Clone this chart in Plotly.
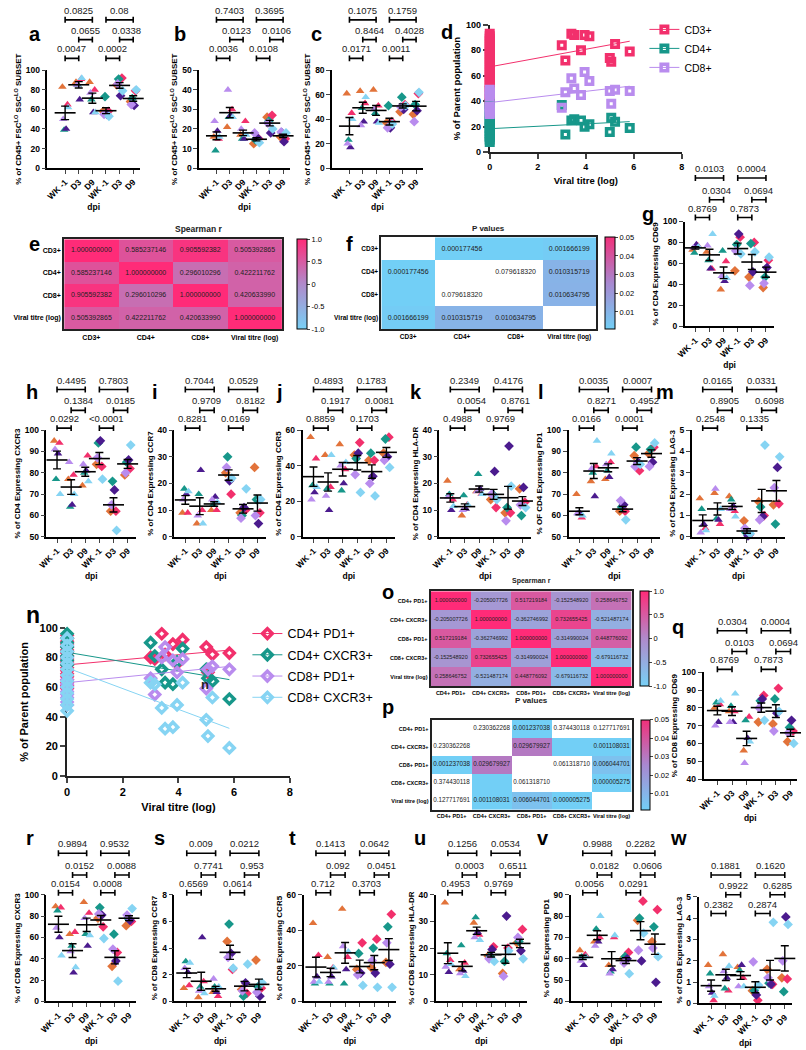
import numpy as np
import plotly.graph_objects as go

# ======================= DATA =======================
ANIMAL_COLORS = ["#E2733A", "#F2306C", "#17978A", "#4B1B8E", "#B98CEE", "#86D4F3"]
DPI_LABELS = ["WK -1", "D3", "D9", "WK -1", "D3", "D9"]

# each panel: 6 groups (WK-1, D3, D9 triangles | WK-1, D3, D9 diamonds) x 6 animals
A_VALUES = [[83, 65, 39, 40, 50, 62], [88, 91, 85, 70, 85, 92], [88, 80, 70, 57, 77, 57],
            [58, 58, 73, 55, 55, 53], [85, 92, 91, 74, 86, 79], [68, 79, 71, 64, 65, 80]]
B_VALUES = [[16, 15, 9, 19, 24, 16], [21, 30, 26, 27, 40, 26], [17, 24, 15, 15, 20, 17],
            [12.5, 15, 14.5, 15.5, 18, 13], [26, 27, 24, 18, 23, 20], [16, 15, 18, 13.5, 18.5, 18]]
C_VALUES = [[61, 45, 23, 17, 20, 40], [63, 53, 49, 38, 35, 58], [64, 51, 45, 38, 48, 37],
            [37, 38, 51, 33, 33, 36], [46, 52, 58, 48, 50, 51], [44, 61, 52, 47, 38, 62]]
G_VALUES = [[73, 77, 70, 78, 75, 76], [71, 55, 63, 55, 77, 88], [35, 62, 72, 43, 48, 46],
            [53, 85, 78, 88, 72, 69], [47, 80, 79, 52, 39, 71], [37, 63, 47, 56, 41, 66]]
H_VALUES = [[95, 94, 77, 89, 91, 70], [77, 79, 64, 65, 85, 70], [74, 88, 80, 81, 84, 76],
            [84, 83, 94, 95, 87, 77], [62, 62, 76, 72, 65, 53], [79, 82, 85, 86, 80, 93]]
I_VALUES = [[9, 9, 18, 16, 14, 17], [5, 10, 16, 25, 8, 5], [10, 10, 12, 15, 14, 13],
            [24, 16, 30, 21, 26, 22], [9, 10, 8, 11, 7, 18], [26, 9, 14, 5, 8, 14]]
J_VALUES = [[56, 44, 29, 25, 21, 28], [46, 28, 27, 15, 23, 46], [52, 38, 26, 30, 40, 42],
            [46, 53, 44, 47, 35, 25], [43, 43, 47, 34, 30, 23], [47, 56, 55, 45, 43, 39]]
K_VALUES = [[21, 14, 16, 10, 15, 11.5], [8, 12, 15.5, 10.5, 10, 12], [17, 16, 23.5, 18, 17, 16],
            [14, 11, 16, 24.5, 16, 14], [9, 9, 11, 34, 6, 19], [18, 13, 8, 18.5, 12, 11]]
L_VALUES = [[70, 59, 61, 61, 61, 60], [76, 83, 80, 69, 82, 95], [77, 85, 81, 78, 84, 89],
            [62, 62, 64, 65, 67, 58], [88, 81, 92, 85, 83, 84], [89, 92, 91, 85, 83, 94]]
M_VALUES = [[1.8, 0.4, 1.3, 0.6, 0.2, 0.3], [2.05, 0.6, 0.85, 0.8, 2.25, 1.3], [1.9, 1.2, 1.75, 1.45, 1.3, 0.95],
            [0.75, 0.1, 0.2, 0.05, 0.4, 0.15], [1.65, 1.0, 1.4, 0.95, 0.8, 4.3], [1.5, 1.55, 0.6, 3.25, 2.3, 3.75]]
Q_VALUES = [[80, 82, 83, 72, 70, 84], [78, 78, 81, 72, 72, 88], [56, 75, 73, 63, 49, 61],
            [72, 87, 84, 85, 80, 73], [71, 91, 85, 77, 67, 78], [61, 67, 69, 73, 66, 60]]
R_VALUES = [[89, 88, 85, 60, 69, 43], [63, 65, 52, 27, 47, 32], [93, 83, 63, 52, 78, 62],
            [78, 70, 88, 81, 82, 59], [33, 46, 63, 38, 49, 19], [71, 75, 78, 76, 81, 87]]
S_VALUES = [[1.0, 1.2, 3.0, 2.2, 2.5, 2.9], [0.3, 1.5, 1.1, 4.8, 0.8, 0.6], [0.7, 0.4, 1.1, 0.7, 1.7, 1.1],
            [4.5, 2.4, 5.8, 3.6, 3.3, 2.5], [0.9, 0.6, 0.4, 1.4, 0.8, 2.8], [3.1, 1.0, 1.1, 0.4, 0.7, 1.4]]
T_VALUES = [[44, 26, 10, 14, 11, 11], [25, 19, 10, 14, 11, 19], [52, 25, 10, 18, 31, 28],
            [18, 33, 27, 16, 15, 9], [19, 35, 30, 16, 23, 8], [22, 49, 42, 21, 33, 8]]
U_VALUES = [[37, 15.5, 18, 11, 13, 14], [12, 14.5, 21, 11.5, 10.5, 9.5], [29.5, 25, 31.5, 26, 24, 23],
            [17, 20.5, 17, 19.5, 16, 15], [10.5, 20, 15, 32, 9.5, 19], [22, 27, 22.5, 19, 24, 16]]
V_VALUES = [[64, 62, 61, 57, 59, 61], [68, 70, 74, 68, 66, 80], [57, 70, 54, 55, 53, 71],
            [60, 63, 61, 60, 58, 53], [78, 87, 79, 59, 64, 72], [68, 83, 75, 49, 65, 61]]
W_VALUES = [[1.8, 0.15, 1.4, 0.5, 0.8, 0.35], [2.3, 0.6, 0.7, 1.2, 1.5, 1.75], [1.7, 1.2, 1.55, 1.8, 0.8, 0.8],
            [0.6, 0.15, 0.6, 0.4, 1.95, 0.85], [1.6, 0.9, 0.95, 0.9, 1.2, 3.8], [1.2, 1.15, 0.55, 4.05, 2.0, 3.7]]

# brackets: (from group, to group, level 0=top 1=mid 2=low); p-values in the same order
BRACKET_PAIRS = [(0, 1, 2), (1, 2, 1), (0, 2, 0), (3, 4, 2), (4, 5, 1), (3, 5, 0)]
A_P = ["0.0047", "0.0655", "0.0825", "0.0002", "0.0338", "0.08"]
B_P = ["0.0036", "0.0123", "0.7403", "0.0108", "0.0106", "0.3695"]
C_P = ["0.0171", "0.8464", "0.1075", "0.0011", "0.4028", "0.1759"]
G_P = ["0.8769", "0.0304", "0.0103", "0.7873", "0.0694", "0.0004"]
H_P = ["0.0292", "0.1384", "0.4495", "<0.0001", "0.0185", "0.7803"]
I_P = ["0.8281", "0.9709", "0.7044", "0.0169", "0.8182", "0.0529"]
J_P = ["0.8859", "0.1917", "0.4893", "0.1703", "0.0081", "0.1783"]
K_P = ["0.4988", "0.0054", "0.2349", "0.9769", "0.8761", "0.4176"]
L_P = ["0.0166", "0.8271", "0.0035", "0.0001", "0.4952", "0.0007"]
M_P = ["0.2548", "0.8905", "0.0165", "0.1335", "0.6098", "0.0331"]
Q_P = ["0.8769", "0.0103", "0.0304", "0.7873", "0.0694", "0.0004"]
R_P = ["0.0154", "0.0152", "0.9894", "0.0008", "0.0088", "0.9532"]
S_P = ["0.6569", "0.7741", "0.009", "0.0614", "0.953", "0.0212"]
T_P = ["0.712", "0.092", "0.1413", "0.3703", "0.0451", "0.0642"]
U_P = ["0.4953", "0.0003", "0.1256", "0.9769", "0.6511", "0.0534"]
V_P = ["0.0056", "0.0182", "0.9988", "0.0291", "0.0606", "0.2282"]
W_P = ["0.2382", "0.9922", "0.1881", "0.2874", "0.6285", "0.1620"]

# correlation panels
TITRE = [3.0, 3.15, 3.4, 3.52, 3.8, 3.95, 4.15, 5.0, 5.06, 5.22, 5.83]
D_SERIES = ["CD3+", "CD4+", "CD8+"]
D_VALUES = [[84, 72, 93, 92, 80, 92, 91, 74, 71, 85, 79],
            [37, 14, 25, 26, 25, 20, 22, 16, 27, 24, 19],
            [35, 47, 58, 50, 45, 63, 56, 48, 38, 49, 48]]
D_BASELINE = [[93, 91, 89, 87, 85, 83, 81, 79, 77, 75, 73, 71, 69, 67, 65, 63, 61, 59, 57, 55, 53, 51, 48, 45, 42, 40, 38],
              [38, 35, 33, 31, 29, 27, 25, 24, 22, 20, 19, 17, 15, 13, 12, 10, 8],
              [49, 47, 46, 44, 36, 35, 33, 31, 30]]
D_FIT_INTERCEPT = [67, 18.5, 39]
D_FIT_SLOPE = [3.45, 0.95, 2.2]

N_SERIES = ["CD4+ PD1+", "CD4+ CXCR3+", "CD8+ PD1+", "CD8+ CXCR3+"]
N_VALUES = [[80, 79, 96, 82, 89, 76, 92, 87, 70, 82, 83],
            [90, 81, 72, 63, 62, 77, 86, 72, 66, 64, 52],
            [66, 55, 80, 87, 78, 70, 79, 59, 72, 74, 72],
            [63, 62, 46, 32, 33, 48, 63, 38, 27, 53, 19]]
N_BASELINE = [[95, 93, 91, 89, 87, 85, 83, 81, 79, 77, 75, 73, 71, 69, 67, 65, 63, 61, 59],
              [96, 93, 90, 87, 84, 81, 78, 75],
              [65, 62, 60, 57, 55, 53, 50, 48],
              [93, 88, 84, 80, 76, 72, 68, 64, 60, 56, 52, 48, 44]]
N_FIT_INTERCEPT = [75, 83.5, 63, 73]
N_FIT_SLOPE = [1.71, -3.16, 1.88, -7.0]

E_LABELS = ["CD3+", "CD4+", "CD8+", "Viral titre (log)"]
E_R = [[1.000000000, 0.585237146, 0.905592382, 0.505392865],
       [0.585237146, 1.000000000, 0.296010296, 0.422211762],
       [0.905592382, 0.296010296, 1.000000000, 0.420633990],
       [0.505392865, 0.422211762, 0.420633990, 1.000000000]]
F_P = [[None, 0.000177456, 1e-9, 0.001666199],
       [0.000177456, None, 0.079618320, 0.010315719],
       [1e-9, 0.079618320, None, 0.010634795],
       [0.001666199, 0.010315719, 0.010634795, None]]
O_LABELS = ["CD4+ PD1+", "CD4+ CXCR3+", "CD8+ PD1+", "CD8+ CXCR3+", "Viral titre (log)"]
O_R = [[1.000000000, -0.205007726, 0.517219184, -0.152548920, 0.258646752],
       [-0.205007726, 1.000000000, -0.362746992, 0.732655425, -0.521487174],
       [0.517219184, -0.362746992, 1.000000000, -0.314990024, 0.448776092],
       [-0.152548920, 0.732655425, -0.314990024, 1.000000000, -0.679116732],
       [0.258646752, -0.521487174, 0.448776092, -0.679116732, 1.000000000]]
P_P = [[None, 0.230362268, 0.001237038, 0.374430118, 0.127717691],
       [0.230362268, None, 0.029679927, 1e-9, 0.001108031],
       [0.001237038, 0.029679927, None, 0.061318710, 0.006044701],
       [0.374430118, 1e-9, 0.061318710, None, 0.000005275],
       [0.127717691, 0.001108031, 0.006044701, 0.000005275, None]]

# ======================= STYLE / LAYOUT =======================
W, H = 806, 1050
FONT = "Liberation Sans, Arial, sans-serif"
GROUP_SYMBOLS = ["triangle-up"] * 3 + ["diamond"] * 3
JITTER = [-0.2, 0.17, -0.07, 0.07, -0.14, 0.22]
R_SCALE = [[0, "#78D0F5"], [0.5, "#B08ACB"], [1, "#FF2B78"]]
P_SCALE = [[0, "#72CFF6"], [0.5, "#A888D0"], [1, "#F2307A"]]

fig = go.Figure()
layout = dict(width=W, height=H, margin=dict(l=0, r=0, t=0, b=0),
              paper_bgcolor="white", plot_bgcolor="white",
              font=dict(family=FONT, color="black"))
shapes, annotations = [], []
_count = [0]


def new_axes():
    _count[0] += 1
    k = _count[0]
    s = "" if k == 1 else str(k)
    return "x" + s, "y" + s, "xaxis" + s, "yaxis" + s


def dom_x(x0, x1):
    return [x0 / W, x1 / W]


def dom_y(top, bot):
    return [1 - bot / H, 1 - top / H]


def letter(t, x, y, size=20):
    annotations.append(dict(xref="paper", yref="paper", x=x / W, y=1 - y / H, text="<b>%s</b>" % t,
                            showarrow=False, font=dict(size=size, color="black")))


def dot_panel(values, pvals, ytitle, x0, x1, ytop, ybot, yrange, dtick, xrange, offs):
    xn, yn, xk, yk = new_axes()
    vals = np.array(values, float)
    ng, na = vals.shape
    xs, ys, cols, syms = [], [], [], []
    for g in range(ng):
        for a in range(na):
            xs.append(g + JITTER[a])
            ys.append(vals[g, a])
            cols.append(ANIMAL_COLORS[a])
            syms.append(GROUP_SYMBOLS[g])
    fig.add_trace(go.Scatter(x=xs, y=ys, mode="markers", xaxis=xn, yaxis=yn, showlegend=False,
                             cliponaxis=False, hoverinfo="skip",
                             marker=dict(color=cols, symbol=syms, size=7.5, line=dict(width=0))))
    means = vals.mean(axis=1)
    sems = vals.std(axis=1, ddof=1) / np.sqrt(na)
    fig.add_trace(go.Scatter(x=list(range(ng)), y=means, mode="markers", xaxis=xn, yaxis=yn,
                             showlegend=False, cliponaxis=False, hoverinfo="skip",
                             marker=dict(symbol="line-ew-open", size=15, color="black",
                                         line=dict(width=1.6, color="black")),
                             error_y=dict(type="data", array=sems, color="black", thickness=1.4, width=4)))
    tf = dict(size=8.5, weight="bold")
    layout[xk] = dict(domain=dom_x(x0, x1), anchor=yn, range=xrange, tickmode="array",
                      tickvals=list(range(ng)), ticktext=DPI_LABELS, tickangle=-45, ticks="outside",
                      ticklen=4, tickwidth=1.4, showline=True, linewidth=1.6, linecolor="black",
                      showgrid=False, zeroline=False, tickfont=tf,
                      title=dict(text="dpi", font=dict(size=8.5, weight="bold"), standoff=4))
    layout[yk] = dict(domain=dom_y(ytop, ybot), anchor=xn, range=yrange, dtick=dtick, ticks="outside",
                      ticklen=4, tickwidth=1.4, showline=True, linewidth=1.6, linecolor="black",
                      showgrid=False, zeroline=False, tickfont=tf,
                      title=dict(text=ytitle, font=dict(size=8, weight="bold"), standoff=3))
    hpx = ybot - ytop
    for (i, j, lvl), lab in zip(BRACKET_PAIRS, pvals):
        yb = 1 + offs[lvl] / hpx
        cap = 3 / hpx
        ln = dict(color="black", width=1.6)
        shapes.append(dict(type="line", xref=xn, yref=yn + " domain", x0=i, x1=j, y0=yb, y1=yb, line=ln))
        for xc in (i, j):
            shapes.append(dict(type="line", xref=xn, yref=yn + " domain", x0=xc, x1=xc,
                               y0=yb - cap, y1=yb + cap, line=ln))
        annotations.append(dict(xref=xn, yref=yn + " domain", x=(i + j) / 2, y=yb + 2 / hpx, text=lab,
                                showarrow=False, yanchor="bottom", font=dict(size=9.5, color="#1a1a1a")))


def fmt9(v):
    return "%.9f" % v


def heat_panel(z, labels, x0, x1, ytop, ybot, scale, zmin, zmax, cbx, cbw, cbvals, cbtext,
               cellsize, labsize, pmode=False):
    xn, yn, xk, yk = new_axes()
    n = len(labels)
    zc, tx, ty, tt = [], [], [], []
    for r in range(n):
        row = []
        for c in range(n):
            v = z[r][c]
            if pmode:
                if v is None or v > 0.05:
                    row.append(None)
                else:
                    row.append(v)
                if v is not None and v >= 1e-6:
                    tx.append(c); ty.append(r); tt.append(fmt9(v))
            else:
                row.append(v)
                tx.append(c); ty.append(r); tt.append(fmt9(v))
        zc.append(row)
    fig.add_trace(go.Heatmap(z=zc, x=list(range(n)), y=list(range(n)), xaxis=xn, yaxis=yn,
                             colorscale=scale, zmin=zmin, zmax=zmax, hoverinfo="skip",
                             colorbar=dict(x=cbx / W, xanchor="left", y=1 - ybot / H, yanchor="bottom",
                                           len=(ybot - ytop) / H, lenmode="fraction", thickness=cbw,
                                           thicknessmode="pixels", outlinewidth=1, outlinecolor="black",
                                           tickmode="array", tickvals=cbvals, ticktext=cbtext,
                                           ticks="outside", ticklen=3, tickfont=dict(size=7.5),
                                           xpad=0, ypad=0)))
    fig.add_trace(go.Scatter(x=tx, y=ty, text=tt, mode="text", xaxis=xn, yaxis=yn, showlegend=False,
                             hoverinfo="skip", textfont=dict(size=cellsize, color="#222222")))
    lf = dict(size=labsize, weight="bold")
    layout[xk] = dict(domain=dom_x(x0, x1), anchor=yn, range=[-0.5, n - 0.5], tickmode="array",
                      tickvals=list(range(n)), ticktext=labels, ticks="", showline=True, mirror=True,
                      linewidth=2, linecolor="#222222", showgrid=False, zeroline=False, tickfont=lf)
    layout[yk] = dict(domain=dom_y(ytop, ybot), anchor=xn, range=[n - 0.5, -0.5], tickmode="array",
                      tickvals=list(range(n)), ticktext=labels, ticks="", showline=True, mirror=True,
                      linewidth=2, linecolor="#222222", showgrid=False, zeroline=False, tickfont=lf)


def corr_panel(series, values, baseline, icpt, slope, colors, symbol, x0, x1, ytop, ybot,
               legend, tick, title, msize, lw, tstand):
    xn, yn, xk, yk = new_axes()
    for s in range(len(series)):
        xs = [0] * len(baseline[s]) + TITRE
        ys = baseline[s] + values[s]
        mk = dict(symbol=symbol, size=msize, color=colors[s], line=dict(width=lw, color=colors[s]))
        fig.add_trace(go.Scatter(x=xs, y=ys, mode="markers", xaxis=xn, yaxis=yn, showlegend=False,
                                 cliponaxis=False, hoverinfo="skip", marker=mk))
        fx = [0, max(TITRE)]
        fy = [icpt[s] + slope[s] * v for v in fx]
        fig.add_trace(go.Scatter(x=fx, y=fy, mode="lines", xaxis=xn, yaxis=yn, showlegend=False,
                                 hoverinfo="skip", line=dict(color=colors[s], width=1)))
        fig.add_trace(go.Scatter(x=[None], y=[None], mode="lines+markers", name=series[s],
                                 legend=legend, legendgroup=series[s], xaxis=xn, yaxis=yn,
                                 line=dict(color=colors[s], width=1), marker=mk))
    tf = dict(size=tick, weight="bold")
    common = dict(ticks="outside", ticklen=5, tickwidth=2, showline=True, linewidth=2,
                  linecolor="#222222", showgrid=False, zeroline=False, tickfont=tf, layer="below traces")
    layout[xk] = dict(domain=dom_x(x0, x1), anchor=yn, range=[0, 8], dtick=2,
                      title=dict(text="Viral titre (log)", font=dict(size=title, weight="bold"), standoff=6),
                      **common)
    layout[yk] = dict(domain=dom_y(ytop, ybot), anchor=xn, range=[0, 100], dtick=20,
                      title=dict(text="% of Parent population", font=dict(size=title, weight="bold"),
                                 standoff=tstand),
                      **common)
    return xn, yn


CD45 = "% of CD45+ FSC<sup>LO</sup> SSC<sup>LO</sup> SUBSET"
ROW1 = dict(ytop=65, ybot=164, xrange=[-1.3, 5.5], offs=(51, 31, 12))
ROW3 = dict(ytop=429, ybot=537, xrange=[-0.75, 5.6], offs=(41, 20, 2))
ROW5 = dict(ytop=899, ybot=1007, xrange=[-0.85, 5.5], offs=(42, 20, 2))

# ---- row 1 ----
dot_panel(A_VALUES, A_P, CD45, 39, 133, yrange=[0, 100], dtick=20, **ROW1)
dot_panel(B_VALUES, B_P, CD45, 193, 285, yrange=[0, 50], dtick=10, **ROW1)
dot_panel(C_VALUES, C_P, CD45, 328, 420, yrange=[0, 80], dtick=20, **ROW1)
corr_panel(D_SERIES, D_VALUES, D_BASELINE, D_FIT_INTERCEPT, D_FIT_SLOPE,
           [ANIMAL_COLORS[1], ANIMAL_COLORS[2], ANIMAL_COLORS[4]], "square-open",
           488, 683, 19, 148, "legend", 9, 9.5, 6.5, 3.5, 4)

# ---- row 2 ----
heat_panel(E_R, E_LABELS, 56, 277, 236, 327, R_SCALE, -1, 1, 292, 10,
           [1, 0.5, 0, -0.5, -1], ["1.0", "0.5", "0", "-0.5", "-1.0"], 7, 7)
heat_panel(F_P, E_LABELS, 378, 596, 234, 327, P_SCALE, 0.0007, 0.05, 605, 10,
           [0.05, 0.04, 0.03, 0.02, 0.01], ["0.05", "0.04", "0.03", "0.02", "0.01"], 7, 6.5, pmode=True)
dot_panel(G_VALUES, G_P, "% of CD4 Expressing CD69", 686, 777, 218, 324, [0, 100], 20, [-0.75, 5.6], (44, 22, 4))

# ---- row 3 ----
dot_panel(H_VALUES, H_P, "% of CD4 Expressing CXCR3", 38, 129, yrange=[50, 100], dtick=10, **ROW3)
dot_panel(I_VALUES, I_P, "% of CD4 Expressing CCR7", 168, 261, yrange=[0, 40], dtick=10, **ROW3)
dot_panel(J_VALUES, J_P, "% of CD4 Expressing CCR5", 298, 392, yrange=[0, 60], dtick=20, **ROW3)
dot_panel(K_VALUES, K_P, "% of CD4 Expressing HLA-DR", 437, 530, yrange=[0, 40], dtick=10, **ROW3)
dot_panel(L_VALUES, L_P, "% OF CD4 Expressing PD1", 568, 661, yrange=[50, 100], dtick=10, **ROW3)
dot_panel(M_VALUES, M_P, "% of CD4 Expressing LAG-3", 693, 788, yrange=[0, 5], dtick=1, **ROW3)

# ---- row 4 ----
nx, ny = corr_panel(N_SERIES, N_VALUES, N_BASELINE, N_FIT_INTERCEPT, N_FIT_SLOPE,
                    [ANIMAL_COLORS[1], ANIMAL_COLORS[2], ANIMAL_COLORS[4], ANIMAL_COLORS[5]], "diamond-open",
                    59, 285, 629, 779, "legend2", 11, 11, 7.5, 3.5, 9)
annotations.append(dict(xref=nx, yref=ny, x=4.95, y=62, text="<b>n</b>", showarrow=False,
                        font=dict(size=13, color="#222222")))
heat_panel(O_R, O_LABELS, 428, 632, 592, 688, R_SCALE, -1, 1, 641, 9,
           [1, 0.5, 0, -0.5, -1], ["1.0", "0.5", "0", "-0.5", "-1.0"], 5.5, 5.5)
heat_panel(P_P, O_LABELS, 429, 632, 722, 813, P_SCALE, 0.0012, 0.05, 642, 9,
           [0.05, 0.04, 0.03, 0.02, 0.01], ["0.05", "0.04", "0.03", "0.02", "0.01"], 6.3, 5.5, pmode=True)
dot_panel(Q_VALUES, Q_P, "% of CD8 Expressing CD69", 705, 800, 674, 782, [40, 100], 10, [-0.95, 5.45], (42, 21, 3))

# ---- row 5 ----
dot_panel(R_VALUES, R_P, "% of CD8 Expressing CXCR3", 38, 129, yrange=[0, 100], dtick=20, **ROW5)
dot_panel(S_VALUES, S_P, "% of CD8 Expressing CCR7", 168, 261, yrange=[0, 8], dtick=2, **ROW5)
dot_panel(T_VALUES, T_P, "% of CD8 Expressing CCR5", 299, 393, yrange=[0, 60], dtick=20, **ROW5)
dot_panel(U_VALUES, U_P, "% of CD8 Expressing HLA-DR", 433, 526, yrange=[0, 40], dtick=10, **ROW5)
dot_panel(V_VALUES, V_P, "% of CD8 Expressing PD1", 570, 663, yrange=[40, 90], dtick=10, **ROW5)
dot_panel(W_VALUES, W_P, "% of CD8 Expressing LAG-3", 700, 795, 901, 1009, [0, 5], 1, [-0.85, 5.5], (22, 2, -17))

# heatmap titles
for txt, x, y, s in [("Spearman r", 166, 218, 8.5), ("P values", 487, 218, 8),
                     ("Spearman r", 530, 582, 7), ("P values", 530, 709, 8)]:
    annotations.append(dict(xref="paper", yref="paper", x=x / W, y=1 - y / H, text="<b>%s</b>" % txt,
                            showarrow=False, font=dict(size=s, color="#222222")))

# panel letters
for t, x, y in [("a", 18, 15), ("b", 165, 15), ("c", 312, 15), ("d", 445, 13), ("e", 18, 228),
                ("f", 346, 228), ("g", 657, 197), ("h", 15, 390), ("i", 143, 390), ("j", 275, 390),
                ("k", 413, 390), ("l", 545, 390), ("m", 677, 390), ("o", 385, 593), ("p", 385, 722),
                ("q", 687, 628), ("r", 15, 855), ("s", 145, 855), ("t", 288, 855), ("u", 417, 855),
                ("v", 550, 855), ("w", 690, 855)]:
    letter(t, x, y)
letter("n", 15, 616, 23)

layout["legend"] = dict(x=645 / W, y=1 - 9 / H, xanchor="left", yanchor="top", font=dict(size=10.5),
                        bgcolor="rgba(0,0,0,0)", traceorder="grouped", tracegroupgap=0, itemwidth=30)
layout["legend2"] = dict(x=242 / W, y=1 - 620 / H, xanchor="left", yanchor="top", font=dict(size=12.5),
                         bgcolor="rgba(0,0,0,0)", traceorder="grouped", tracegroupgap=2, itemwidth=30)
layout["shapes"] = shapes
layout["annotations"] = annotations
fig.update_layout(**layout)

fig.write_html("out.html", config={"displayModeBar": False},
               post_script="document.body.style.margin='0';document.body.style.overflow='hidden';")
